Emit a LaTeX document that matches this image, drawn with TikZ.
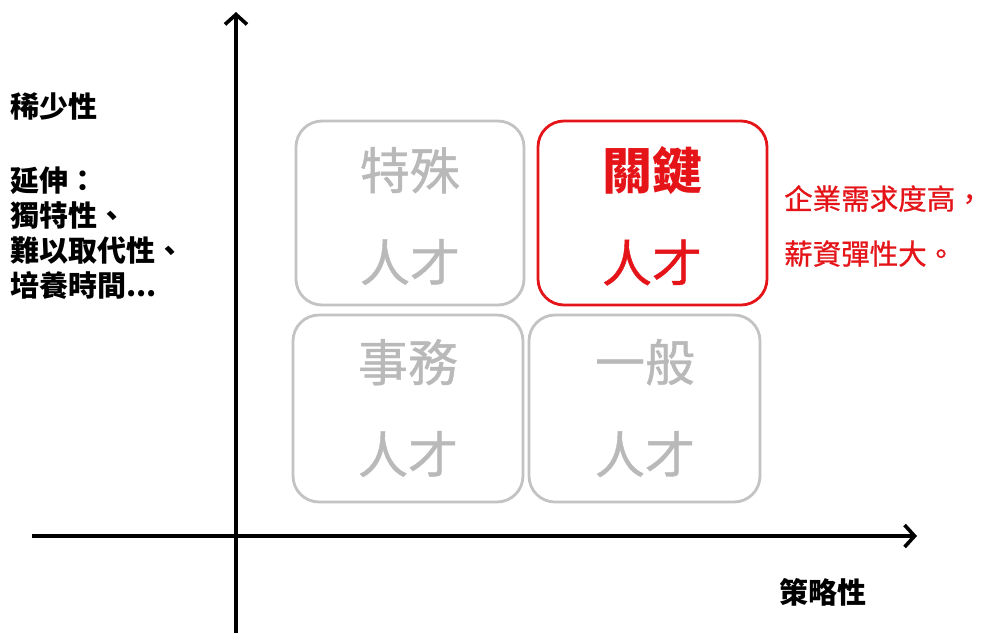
\documentclass[tikz,border=0pt]{standalone}
\usepackage{fontspec}
\usetikzlibrary{arrows.meta}
\newfontfamily\cjk[Script=CJK,Language=Chinese Traditional]{Noto Sans CJK TC}
\newfontfamily\cjkm[Script=CJK,Language=Chinese Traditional,FakeBold=0.8]{Noto Sans CJK TC}
\definecolor{boxgray}{RGB}{195,195,195}
\definecolor{txtgray}{RGB}{185,185,185}
\definecolor{keyred}{RGB}{228,20,25}
\begin{document}
\begin{tikzpicture}[x=1pt,y=-1pt,
  axis/.style={line width=3.6pt,-{Straight Barb[length=10pt,width=22pt,line width=3.6pt]}},
  quad/.style={rounded corners=26pt,line width=2.8pt,draw=boxgray},
  quadtxt/.style={font=\cjkm\fontsize{50}{92}\selectfont,text=txtgray,align=center,inner sep=0pt},
  sidetxt/.style={font=\cjk\bfseries\fontsize{29}{35}\selectfont,align=left,anchor=west,inner sep=0pt},
  redtxt/.style={font=\cjkm\fontsize{28.5}{55}\selectfont,text=keyred,align=left,anchor=west,inner sep=0pt}]
\useasboundingbox (0,0) rectangle (990,633);
\fill[white] (0,0) rectangle (990,633);
% axes
\coordinate (yb) at (236,633);
\coordinate (yt) at (236,12);
\coordinate (xl) at (32,536);
\coordinate (xr) at (917,536);
\draw[axis] (yb) -- (yt);
\draw[axis] (xl) -- (xr);
% quadrants
\draw[quad] (296,121) rectangle (524,305);
\draw[quad,draw=keyred] (538,121) rectangle (767,305);
\draw[quad] (293,315) rectangle (523,502);
\draw[quad] (529,315) rectangle (760,502);
\node[quadtxt] (q1) at (410,216) {特殊\\人才};
\node[quadtxt,text=keyred] (q2) at (652,216) {{\cjk\bfseries 關鍵}\\人才};
\node[quadtxt] (q3) at (408,408) {事務\\人才};
\node[quadtxt] (q4) at (645,408) {一般\\人才};
% side texts
\node[sidetxt] (ylab) at (10,106) {稀少性};
\node[sidetxt] (ext) at (10,233) {延伸：\\獨特性、\\難以取代性、\\培養時間...};
\node[sidetxt] (xlab) at (779,592) {策略性};
\node[redtxt] (note) at (784,226) {企業需求度高，\\薪資彈性大。};
\end{tikzpicture}
\end{document}
